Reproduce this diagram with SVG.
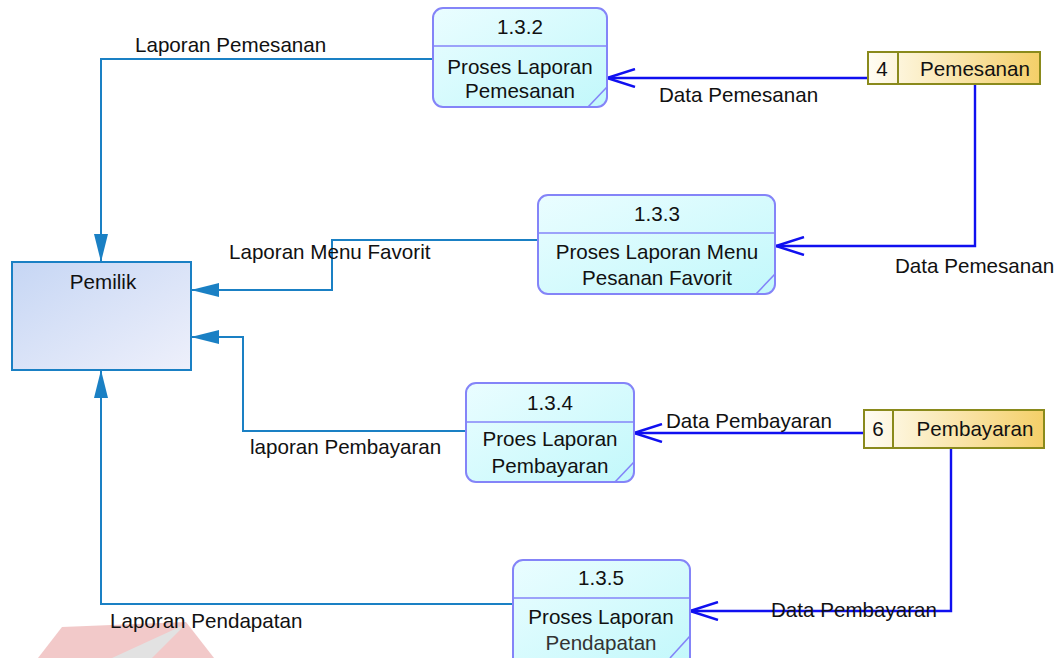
<svg xmlns="http://www.w3.org/2000/svg" width="1062" height="658" viewBox="0 0 1062 658">
  <defs>
    <linearGradient id="procFill" x1="0" y1="0" x2="1" y2="1">
      <stop offset="0" stop-color="#eafdff"/>
      <stop offset="1" stop-color="#c2f8fb"/>
    </linearGradient>
    <linearGradient id="entityFill" x1="0" y1="0" x2="1" y2="1">
      <stop offset="0" stop-color="#c6d6f4"/>
      <stop offset="1" stop-color="#eef0fb"/>
    </linearGradient>
    <linearGradient id="storeFill" x1="0" y1="0" x2="1" y2="0">
      <stop offset="0" stop-color="#fffdf4"/>
      <stop offset="1" stop-color="#f4cf68"/>
    </linearGradient>
    <marker id="arrowFilled" viewBox="0 0 28 14" refX="28" refY="7" markerWidth="28" markerHeight="14" markerUnits="userSpaceOnUse" orient="auto">
      <path d="M0,0 L28,7 L0,14 Z" fill="#1a80c4"/>
    </marker>
    <marker id="arrowOpen" viewBox="0 0 30 20" refX="29" refY="10" markerWidth="30" markerHeight="20" markerUnits="userSpaceOnUse" orient="auto">
      <path d="M1,1 L29,10 L1,19" fill="none" stroke="#1010f0" stroke-width="2.4"/>
    </marker>
  </defs>
  <style>
    text { font-family: "Liberation Sans", Arial, sans-serif; font-size: 20.6px; fill: #111; }
    .mid { text-anchor: middle; }
    .proc { fill: url(#procFill); stroke: #8484f8; stroke-width: 2; }
    .div { stroke: #8484f8; stroke-width: 1.6; fill: none; }
    .entity { fill: url(#entityFill); stroke: #1a80c4; stroke-width: 2; }
    .store { fill: url(#storeFill); stroke: #8a8a1c; stroke-width: 2; }
    .flowOut { fill: none; stroke: #1a80c4; stroke-width: 2; marker-end: url(#arrowFilled); }
    .flowIn { fill: none; stroke: #1010f0; stroke-width: 2.4; marker-end: url(#arrowOpen); }
  </style>

  <rect width="1062" height="658" fill="#ffffff"/>

  <!-- faint logo in lower left -->
  <g id="logo" opacity="0.4">
    <polygon points="62,627 186,622 214,658 38,658" fill="#e07a7a"/>
    <polygon points="186,624 112,658 152,658" fill="#b8b8b8"/>
  </g>

  <!-- data flows -->
  <g id="connectors">
    <polyline class="flowOut" points="433,59 101,59 101,262"/>
    <polyline class="flowIn" points="868,78 607,78"/>
    <polyline class="flowIn" points="975,85 975,246 776,246"/>
    <polyline class="flowOut" points="538,240 332,240 332,290 191,290"/>
    <polyline class="flowOut" points="466,431 243,431 243,337 191,337"/>
    <polyline class="flowIn" points="864,433 634,433"/>
    <polyline class="flowIn" points="951,448 951,611 690,611"/>
    <polyline class="flowOut" points="513,604 101,604 101,370"/>
  </g>

  <!-- flow labels -->
  <g id="flow-labels">
    <text x="135" y="52">Laporan Pemesanan</text>
    <text x="659" y="102">Data Pemesanan</text>
    <text x="895" y="273">Data Pemesanan</text>
    <text x="229" y="259">Laporan Menu Favorit</text>
    <text x="250" y="454">laporan Pembayaran</text>
    <text x="666" y="428">Data Pembayaran</text>
    <text x="771" y="617">Data Pembayaran</text>
    <text x="110" y="628">Laporan Pendapatan</text>
  </g>

  <!-- external entity -->
  <g id="pemilik">
    <rect class="entity" x="12" y="262" width="179" height="108"/>
    <text class="mid" x="103" y="289">Pemilik</text>
  </g>

  <!-- data stores -->
  <g id="store-pemesanan">
    <rect class="store" x="868" y="52" width="172" height="32"/>
    <line x1="898" y1="52" x2="898" y2="84" stroke="#8a8a1c" stroke-width="2"/>
    <text class="mid" x="882" y="76">4</text>
    <text class="mid" x="975" y="76">Pemesanan</text>
  </g>
  <g id="store-pembayaran">
    <rect class="store" x="864" y="410" width="180" height="38"/>
    <line x1="893" y1="410" x2="893" y2="448" stroke="#8a8a1c" stroke-width="2"/>
    <text class="mid" x="878" y="436">6</text>
    <text class="mid" x="975" y="436">Pembayaran</text>
  </g>

  <!-- processes -->
  <g id="proc-1-3-2">
    <rect class="proc" x="433" y="8" width="174" height="99" rx="10"/>
    <line class="div" x1="433" y1="46" x2="607" y2="46"/>
    <line class="div" x1="588" y1="107" x2="607" y2="87"/>
    <text class="mid" x="520" y="34">1.3.2</text>
    <text class="mid" x="520" y="74">Proses Laporan</text>
    <text class="mid" x="520" y="98">Pemesanan</text>
  </g>
  <g id="proc-1-3-3">
    <rect class="proc" x="538" y="195" width="237" height="99" rx="10"/>
    <line class="div" x1="538" y1="233" x2="775" y2="233"/>
    <line class="div" x1="756" y1="294" x2="775" y2="274"/>
    <text class="mid" x="657" y="221">1.3.3</text>
    <text class="mid" x="657" y="259">Proses Laporan Menu</text>
    <text class="mid" x="657" y="285">Pesanan Favorit</text>
  </g>
  <g id="proc-1-3-4">
    <rect class="proc" x="466" y="383" width="168" height="99" rx="10"/>
    <line class="div" x1="466" y1="422" x2="634" y2="422"/>
    <line class="div" x1="615" y1="482" x2="634" y2="462"/>
    <text class="mid" x="550" y="410">1.3.4</text>
    <text class="mid" x="550" y="446">Proes Laporan</text>
    <text class="mid" x="550" y="473">Pembayaran</text>
  </g>
  <g id="proc-1-3-5">
    <rect class="proc" x="513" y="560" width="177" height="108" rx="10"/>
    <line class="div" x1="513" y1="598" x2="690" y2="598"/>
    <line class="div" x1="670" y1="658" x2="690" y2="636"/>
    <text class="mid" x="601" y="585">1.3.5</text>
    <text class="mid" x="601" y="624">Proses Laporan</text>
    <text class="mid" x="601" y="650" style="fill:#333">Pendapatan</text>
  </g>
</svg>
